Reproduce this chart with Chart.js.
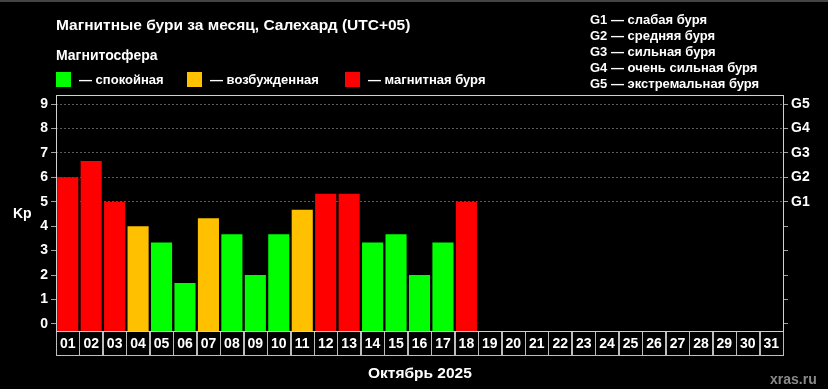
<!DOCTYPE html>
<html>
<head>
<meta charset="utf-8">
<script src="https://cdn.jsdelivr.net/npm/chart.js@4/dist/chart.umd.min.js"></script>
<style>
  html, body { margin: 0; padding: 0; background: #000; }
  #wrap { position: relative; width: 828px; height: 389px; background: #000; overflow: hidden;
          font-family: "Liberation Sans", Arial, sans-serif; font-weight: bold; color: #fff; }
  #wrap canvas { position: absolute; left: 0; top: 0; }
  .t { position: absolute; white-space: nowrap; }
  .sq { position: absolute; width: 15px; height: 15px; }
</style>
</head>
<body>
<div id="wrap">
  <canvas id="kpChart" width="828" height="389"></canvas>
  <div class="t" style="left:0;top:0;width:828px;height:2px;background:#444"></div>
  <div class="t" style="left:56px;top:16px;font-size:15.5px">Магнитные бури за месяц, Салехард (UTC+05)</div>
  <div class="t" style="left:56px;top:47px;font-size:14px">Магнитосфера</div>
  <div class="sq" style="left:56px;top:72px;background:#00ff00"></div>
  <div class="t" style="left:79px;top:72px;font-size:13px">— спокойная</div>
  <div class="sq" style="left:187px;top:72px;background:#ffc000"></div>
  <div class="t" style="left:210px;top:72px;font-size:13px">— возбужденная</div>
  <div class="sq" style="left:345px;top:72px;background:#ff0000"></div>
  <div class="t" style="left:368px;top:72px;font-size:13px">— магнитная буря</div>
  <div class="t" style="left:590px;top:12px;font-size:13px;line-height:16px">G1 — слабая буря<br>G2 — средняя буря<br>G3 — сильная буря<br>G4 — очень сильная буря<br>G5 — экстремальная буря</div>
  <div class="t" style="left:13px;top:205px;font-size:14px">Kp</div>
  <div class="t" style="left:368px;top:364px;font-size:15.5px">Октябрь 2025</div>
  <div class="t" style="left:770px;top:371px;font-size:14px;color:#8a8a8a">xras.ru</div>
</div>
<script>
// дни месяца
const days = ['01','02','03','04','05','06','07','08','09','10','11','12','13','14','15','16',
              '17','18','19','20','21','22','23','24','25','26','27','28','29','30','31'];
// индекс Kp по дням (максимум за сутки)
const kpValues = [6, 6.67, 5, 4, 3.33, 1.67, 4.33, 3.67, 2, 3.67, 4.67, 5.33, 5.33, 3.33, 3.67, 2, 3.33, 5];
// деления шкалы
const kpTicks = [0, 1, 2, 3, 4, 5, 6, 7, 8, 9];
const stormLabels = { 5: 'G1', 6: 'G2', 7: 'G3', 8: 'G4', 9: 'G5' };

const Y_MIN = -0.29;
const Y_MAX = 9.37;

function barColor(v) {
  if (v >= 5) return '#ff0000';
  if (v >= 4) return '#ffc000';
  return '#00ff00';
}

const FONT = { family: '"Liberation Sans", Arial, sans-serif', size: 14, weight: 'bold' };

// рамка графика и клетки с датами
const framePlugin = {
  id: 'frame',
  afterDraw(chart) {
    const { ctx, chartArea: a, scales: { x } } = chart;
    const w = (a.right - a.left) / days.length;
    ctx.save();
    ctx.strokeStyle = '#bdbdbd';
    ctx.lineWidth = 1;
    for (let i = 0; i < days.length; i++) {
      const left = x.getPixelForValue(i) - w / 2;
      ctx.strokeRect(Math.round(left) + 0.5, a.bottom + 0.5, Math.round(w), 24);
    }
    ctx.strokeStyle = '#d0d0d0';
    ctx.strokeRect(a.left + 0.5, a.top + 0.5, a.right - a.left, a.bottom - a.top);
    ctx.restore();
  }
};

const ctx = document.getElementById('kpChart').getContext('2d');
new Chart(ctx, {
  type: 'bar',
  data: {
    labels: days,
    datasets: [{
      data: kpValues,
      base: Y_MIN,
      backgroundColor: kpValues.map(barColor),
      borderWidth: 0,
      barPercentage: 0.9,
      categoryPercentage: 1,
      yAxisID: 'y'
    }]
  },
  options: {
    responsive: false,
    animation: false,
    layout: { padding: { top: 95, left: 0, right: 0, bottom: 0 } },
    plugins: { legend: { display: false }, title: { display: false }, tooltip: { enabled: false } },
    scales: {
      x: {
        grid: { display: false, drawTicks: false },
        border: { display: false },
        ticks: { color: '#fff', font: FONT, padding: 5, maxRotation: 0, autoSkip: false },
        afterFit(s) { s.height = 58; }
      },
      y: {
        position: 'left',
        min: Y_MIN,
        max: Y_MAX,
        afterBuildTicks(s) { s.ticks = kpTicks.map(v => ({ value: v })); },
        afterFit(s) { s.width = 56; },
        border: { display: false, dash: [2, 2] },
        grid: {
          color: c => (c.tick && c.tick.value >= 5 ? '#5a5a5a' : 'rgba(0,0,0,0)'),
          tickColor: '#a0a0a0',
          tickLength: 5,
          tickBorderDash: []
        },
        ticks: { color: '#fff', font: FONT, padding: 3 }
      },
      y2: {
        position: 'right',
        min: Y_MIN,
        max: Y_MAX,
        afterBuildTicks(s) { s.ticks = kpTicks.map(v => ({ value: v })); },
        afterFit(s) { s.width = 45; },
        border: { display: false },
        grid: { drawOnChartArea: false, tickColor: '#a0a0a0', tickLength: 5 },
        ticks: { color: '#fff', font: FONT, padding: 3, callback: v => stormLabels[v] || '' }
      }
    }
  },
  plugins: [framePlugin]
});
</script>
</body>
</html>
